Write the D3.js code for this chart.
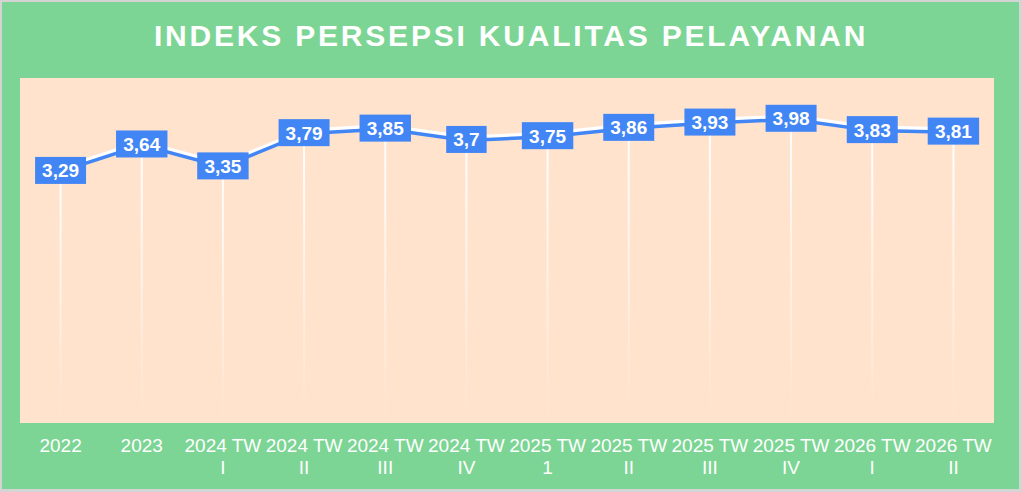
<!DOCTYPE html>
<html>
<head>
<meta charset="utf-8">
<script src="https://cdn.jsdelivr.net/npm/d3@7"></script>
<style>
  body { margin: 0; background: #d4d4d4; }
  text { font-family: "Liberation Sans", Arial, sans-serif; }
</style>
</head>
<body>
<div id="chart"></div>
<script>
var svgWidth = 1022;
var svgHeight = 492;

// data
var years = ["2022", "2023", "2024 TW", "2024 TW", "2024 TW", "2024 TW", "2025 TW", "2025 TW", "2025 TW", "2025 TW", "2026 TW", "2026 TW"];
var quarters = ["", "", "I", "II", "III", "IV", "1", "II", "III", "IV", "I", "II"];
var values = [3.29, 3.64, 3.35, 3.79, 3.85, 3.7, 3.75, 3.86, 3.93, 3.98, 3.83, 3.81];

var plot = { left: 20, right: 994, top: 78, bottom: 423 };

var svg = d3.select("#chart")
    .append("svg")
    .attr("width", svgWidth)
    .attr("height", svgHeight);

// outer frame
svg.append("rect")
    .attr("x", 2).attr("y", 2)
    .attr("width", svgWidth - 5).attr("height", svgHeight - 5)
    .attr("fill", "#7cd594");

svg.append("rect")
    .attr("x", plot.left).attr("y", plot.top)
    .attr("width", plot.right - plot.left).attr("height", plot.bottom - plot.top)
    .attr("fill", "#ffe3cd");

svg.append("text")
    .attr("x", 511)
    .attr("y", 46)
    .attr("text-anchor", "middle")
    .attr("fill", "#ffffff")
    .attr("font-size", "30px")
    .attr("font-weight", "bold")
    .attr("letter-spacing", "2.8px")
    .text("INDEKS PERSEPSI KUALITAS PELAYANAN");

var idx = d3.range(values.length);

var xScale = d3.scaleBand()
    .domain(idx)
    .range([plot.left, plot.right]);
var xc = i => xScale(i) + xScale.bandwidth() / 2;

var yScale = d3.scaleLinear()
    .domain([0, 4.5])
    .range([419, 79]);

// fading drop lines
var grad = svg.append("defs").append("linearGradient")
    .attr("id", "fade")
    .attr("x1", 0).attr("y1", 0).attr("x2", 0).attr("y2", 1);
grad.append("stop").attr("offset", "0%").attr("stop-color", "#fff").attr("stop-opacity", 1);
grad.append("stop").attr("offset", "100%").attr("stop-color", "#fff").attr("stop-opacity", 0);

svg.selectAll(".drop")
    .data(values)
    .join("rect")
    .attr("class", "drop")
    .attr("x", (d, i) => xc(i) - 1)
    .attr("y", d => yScale(d))
    .attr("width", 2)
    .attr("height", d => plot.bottom - yScale(d))
    .attr("fill", "url(#fade)");

var line = d3.line()
    .x((d, i) => xc(i))
    .y(d => yScale(d));

svg.append("path")
    .datum(values)
    .attr("d", line)
    .attr("transform", "translate(0,-2)")
    .attr("fill", "none")
    .attr("stroke", "#ffffff")
    .attr("stroke-width", 4);

svg.append("path")
    .datum(values)
    .attr("d", line)
    .attr("transform", "translate(0,1)")
    .attr("fill", "none")
    .attr("stroke", "#4285f4")
    .attr("stroke-width", 3.5);

// value labels
var fmt = d => String(d).replace(".", ",");
var labels = svg.selectAll(".lbl")
    .data(values)
    .join("g")
    .attr("class", "lbl")
    .attr("transform", (d, i) => `translate(${xc(i)},${yScale(d)})`);

labels.append("text")
    .attr("text-anchor", "middle")
    .attr("y", 7)
    .attr("fill", "#ffffff")
    .attr("font-size", "19px")
    .attr("font-weight", "bold")
    .text(fmt)
    .each(function() {
        var w = this.getBBox().width;
        d3.select(this.parentNode).insert("rect", "text")
            .attr("x", -w / 2 - 7)
            .attr("y", -13.5)
            .attr("width", w + 14)
            .attr("height", 27)
            .attr("fill", "#4285f4");
    });

// category labels
var ticks = svg.selectAll(".tick")
    .data(idx)
    .join("text")
    .attr("class", "tick")
    .attr("text-anchor", "middle")
    .attr("fill", "#ffffff")
    .attr("font-size", "19px");
ticks.append("tspan")
    .attr("x", i => xc(i))
    .attr("y", 452)
    .text(i => years[i]);
ticks.append("tspan")
    .attr("x", i => xc(i))
    .attr("y", 474)
    .text(i => quarters[i]);
</script>
</body>
</html>
